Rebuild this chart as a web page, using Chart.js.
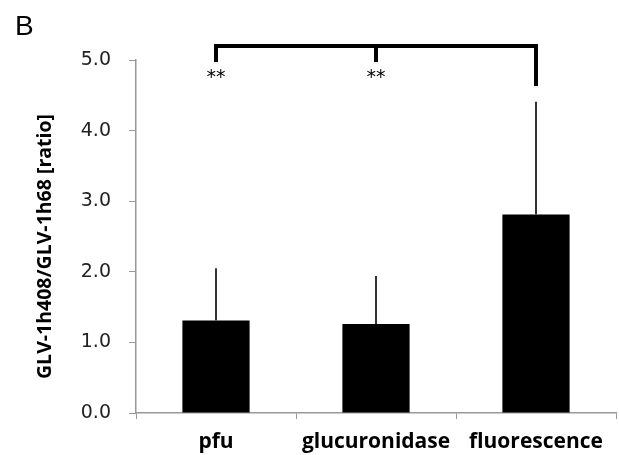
<!DOCTYPE html>
<html>
<head>
<meta charset="utf-8">
<script src="https://cdn.jsdelivr.net/npm/chart.js@4"></script>
<style>
    body { margin: 0; background: #fff; }
    #wrap { width: 619px; height: 455px; position: relative; }
</style>
</head>
<body>
<div id="wrap"><canvas id="ratioChart"></canvas></div>
<script>
// data
const categorias = ['pfu', 'glucuronidase', 'fluorescence'];
const medias = [1.31, 1.26, 2.81];
const topoErro = [2.05, 1.94, 4.41];   // upper end of each error bar
const ticksY = [0, 1, 2, 3, 4, 5];
const tituloY = 'GLV-1h408/GLV-1h68 [ratio]';

// significance bracket: all tests against fluorescence
const bracketAlvo = 2;
const bracketComparados = [0, 1];
const bracketMarcas = ['**', '**'];
const bracketTopo = 5.2;
const bracketPernaCurta = 4.97;
const bracketPernaLonga = 4.63;
const marcaY = 4.75;

const extras = {
    id: 'extras',
    afterDatasetsDraw(chart) {
        const ctx = chart.ctx;
        const meta = chart.getDatasetMeta(0);
        const y = chart.scales.y;

        // error bars (upper only, no caps)
        ctx.save();
        ctx.strokeStyle = '#333';
        ctx.lineWidth = 2;
        meta.data.forEach((bar, i) => {
            ctx.beginPath();
            ctx.moveTo(bar.x, y.getPixelForValue(medias[i]));
            ctx.lineTo(bar.x, y.getPixelForValue(topoErro[i]));
            ctx.stroke();
        });

        // bracket
        ctx.strokeStyle = '#000';
        ctx.lineWidth = 4;
        ctx.lineCap = 'butt';
        const xs = bracketComparados.map(i => meta.data[i].x);
        const xAlvo = meta.data[bracketAlvo].x;
        const yTopo = y.getPixelForValue(bracketTopo);
        ctx.beginPath();
        ctx.moveTo(Math.min(...xs) - 2, yTopo);
        ctx.lineTo(xAlvo + 2, yTopo);
        xs.forEach(x => {
            ctx.moveTo(x, yTopo);
            ctx.lineTo(x, y.getPixelForValue(bracketPernaCurta));
        });
        ctx.moveTo(xAlvo, yTopo);
        ctx.lineTo(xAlvo, y.getPixelForValue(bracketPernaLonga));
        ctx.stroke();

        ctx.fillStyle = '#000';
        ctx.font = '19px "DejaVu Sans"';
        ctx.textAlign = 'center';
        ctx.textBaseline = 'middle';
        xs.forEach((x, k) => {
            ctx.fillText(bracketMarcas[k], x, y.getPixelForValue(marcaY));
        });

        // y axis title
        ctx.save();
        ctx.translate(45, (y.top + y.bottom) / 2 + 10);
        ctx.rotate(-Math.PI / 2);
        ctx.font = 'bold 19.5px "Open Sans"';
        ctx.fillText(tituloY, 0, 0);
        ctx.restore();

        // panel letter
        ctx.font = '28px "Liberation Sans"';
        ctx.textAlign = 'left';
        ctx.textBaseline = 'alphabetic';
        ctx.fillText('B', 15, 35);
        ctx.restore();
    }
};

const ctx = document.getElementById('ratioChart').getContext('2d');
new Chart(ctx, {
    type: 'bar',
    data: {
        labels: categorias,
        datasets: [{
            data: medias,
            backgroundColor: '#000',
            borderWidth: 0,
            categoryPercentage: 1,
            barPercentage: 0.42
        }]
    },
    options: {
        responsive: true,
        maintainAspectRatio: false,
        animation: false,
        layout: {
            padding: { top: 60, right: 3, left: 0, bottom: 0 }
        },
        plugins: {
            legend: { display: false },
            tooltip: { enabled: false }
        },
        scales: {
            x: {
                grid: {
                    offset: true,
                    drawOnChartArea: false,
                    drawTicks: true,
                    tickLength: 6,
                    color: '#999'
                },
                border: { color: '#999', width: 1.5 },
                ticks: {
                    color: '#000',
                    padding: 10,
                    font: { family: '"Open Sans"', size: 21, weight: 'bold' }
                },
                afterFit(scale) { scale.height = 42; }
            },
            y: {
                min: 0,
                max: 5,
                afterBuildTicks(scale) {
                    scale.ticks = ticksY.map(v => ({ value: v }));
                },
                grid: {
                    drawOnChartArea: false,
                    drawTicks: true,
                    tickLength: 7,
                    color: '#999'
                },
                border: { color: '#999', width: 1.5 },
                ticks: {
                    color: '#222',
                    padding: 18,
                    font: { family: '"DejaVu Sans"', size: 19 },
                    callback: v => v.toFixed(1)
                },
                afterFit(scale) { scale.width = 136; }
            }
        }
    },
    plugins: [extras]
});
</script>
</body>
</html>
